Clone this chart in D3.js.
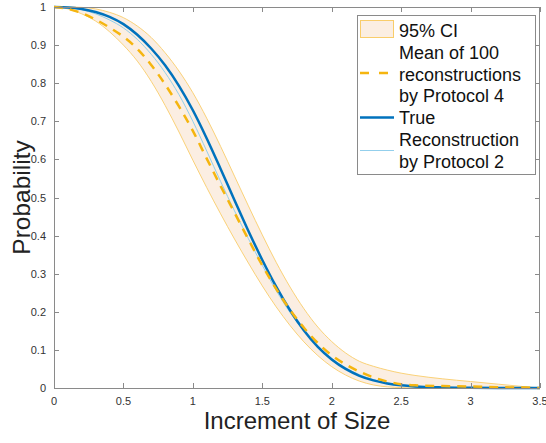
<!DOCTYPE html>
<html><head><meta charset="utf-8">
<script src="https://cdn.jsdelivr.net/npm/d3@7"></script>
<style>body{margin:0;background:#fff}svg{display:block;font-family:"Liberation Sans",Arial,Helvetica,sans-serif}</style>
</head><body><svg id="c" width="546" height="443"></svg>
<script>
const xs = [0,0.1,0.2,0.3,0.4,0.5,0.6,0.7,0.8,0.9,1.0,1.1,1.2,1.3,1.4,1.5,1.6,1.7,1.8,1.9,2.0,2.1,2.2,2.3,2.4,2.5,2.6,2.8,3.0,3.2,3.4,3.5];
const trueP = [1.000,0.999,0.995,0.987,0.974,0.955,0.927,0.891,0.847,0.793,0.729,0.655,0.575,0.493,0.412,0.336,0.266,0.204,0.151,0.108,0.075,0.050,0.032,0.020,0.012,0.007,0.004,0.0015,0.0005,0.0002,0.0001,0];
const protocol2 = [1.000,0.998,0.993,0.982,0.966,0.945,0.915,0.876,0.828,0.770,0.700,0.622,0.542,0.465,0.392,0.322,0.256,0.198,0.150,0.110,0.078,0.053,0.035,0.022,0.013,0.008,0.005,0.002,0.001,0.0003,0.0001,0];
const mean4 = [1.000,0.995,0.984,0.967,0.946,0.922,0.890,0.848,0.797,0.739,0.675,0.602,0.530,0.460,0.390,0.322,0.260,0.205,0.158,0.118,0.086,0.062,0.043,0.028,0.017,0.010,0.007,0.005,0.004,0.002,0.001,0];
const ciUpper = [1.000,1.000,0.999,0.995,0.986,0.972,0.950,0.920,0.880,0.832,0.775,0.708,0.634,0.556,0.478,0.402,0.330,0.265,0.208,0.160,0.122,0.092,0.070,0.057,0.047,0.039,0.033,0.024,0.017,0.010,0.003,0];
const ciLower = [1.000,0.995,0.982,0.963,0.935,0.900,0.858,0.805,0.742,0.672,0.598,0.526,0.457,0.391,0.328,0.268,0.213,0.164,0.121,0.085,0.056,0.034,0.018,0.008,0.003,0.001,0,0,0,0,0,0];
const xTicks = [0,0.5,1,1.5,2,2.5,3,3.5];
const xTickLabels = ["0","0.5","1","1.5","2","2.5","3","3.5"];
const yTicks = [0,0.1,0.2,0.3,0.4,0.5,0.6,0.7,0.8,0.9,1];
const yTickLabels = ["0","0.1","0.2","0.3","0.4","0.5","0.6","0.7","0.8","0.9","1"];
const legendLabels = [["95% CI"],["Mean of 100","reconstructions","by Protocol 4"],["True"],["Reconstruction","by Protocol 2"]];
const xLabel = "Increment of Size", yLabel = "Probability";

const svg = d3.select("#c");
const L=54, R=540, T=7, B=388;
const x = d3.scaleLinear().domain([0,3.5]).range([L,R]);
const y = d3.scaleLinear().domain([0,1]).range([B,T]);
const C = {band:"#FBEEE2", bandEdge:"#F9CD6A", mean:"#F5B50F", tru:"#0072BD", p2:"#93CFEC", axis:"#8a8a8a", text:"#333"};

const pts = xs.map((v,i)=>i);
const area = d3.area().x(i=>x(xs[i])).y0(i=>y(ciLower[i])).y1(i=>y(ciUpper[i])).curve(d3.curveMonotoneX);
const line = arr => d3.line().x(i=>x(xs[i])).y(i=>y(arr[i])).curve(d3.curveMonotoneX);

const plot = svg.append("g");
plot.append("path").attr("d",area(pts)).attr("fill",C.band);
plot.append("path").attr("d",line(ciUpper)(pts)).attr("fill","none").attr("stroke",C.bandEdge).attr("stroke-width",0.9);
plot.append("path").attr("d",line(ciLower)(pts)).attr("fill","none").attr("stroke",C.bandEdge).attr("stroke-width",0.9);
plot.append("path").attr("d",line(protocol2)(pts)).attr("fill","none").attr("stroke",C.p2).attr("stroke-width",1);
plot.append("path").attr("d",line(trueP)(pts)).attr("fill","none").attr("stroke",C.tru).attr("stroke-width",2.5);
plot.append("path").attr("d",line(mean4)(pts)).attr("fill","none").attr("stroke",C.mean).attr("stroke-width",2.5).attr("stroke-dasharray","9,7");

// axes
const ax = svg.append("g").attr("stroke",C.axis).attr("stroke-width",1).attr("fill","none");
ax.append("rect").attr("x",L+0.5).attr("y",T+0.5).attr("width",R-L-1).attr("height",B-T);
const tl = 5;
xTicks.forEach(t=>{
  const px = Math.round(x(t))+0.5;
  ax.append("line").attr("x1",px).attr("x2",px).attr("y1",B).attr("y2",B-tl);
  ax.append("line").attr("x1",px).attr("x2",px).attr("y1",T).attr("y2",T+tl);
});
yTicks.forEach(t=>{
  const py = Math.round(y(t))+0.5;
  ax.append("line").attr("x1",L).attr("x2",L+tl).attr("y1",py).attr("y2",py);
  ax.append("line").attr("x1",R).attr("x2",R-tl).attr("y1",py).attr("y2",py);
});
svg.append("g").selectAll("text").data(xTicks).join("text")
  .attr("x",d=>x(d)).attr("y",B+17).attr("text-anchor","middle")
  .attr("font-size",11).attr("fill",C.text).text((d,i)=>xTickLabels[i]);
svg.append("g").selectAll("text").data(yTicks).join("text")
  .attr("x",L-8).attr("y",d=>y(d)+4).attr("text-anchor","end")
  .attr("font-size",11).attr("fill",C.text).text((d,i)=>yTickLabels[i]);
svg.append("text").attr("x",(L+R)/2).attr("y",429).attr("text-anchor","middle")
  .attr("font-size",24).attr("fill","#222").text(xLabel);
svg.append("text").attr("transform",`translate(30,${(T+B)/2}) rotate(-90)`).attr("text-anchor","middle")
  .attr("font-size",24.5).attr("fill","#222").text(yLabel);

// legend
const lg = svg.append("g");
lg.append("rect").attr("x",357.5).attr("y",15.5).attr("width",178).attr("height",159).attr("fill","#fff").attr("stroke",C.axis).attr("stroke-width",1);
lg.append("rect").attr("x",360.5).attr("y",20.5).attr("width",33).attr("height",17).attr("fill",C.band).attr("stroke",C.bandEdge).attr("stroke-width",1);
lg.append("line").attr("x1",360).attr("x2",394).attr("y1",73).attr("y2",73).attr("stroke",C.mean).attr("stroke-width",2.5).attr("stroke-dasharray","9,10");
lg.append("line").attr("x1",360).attr("x2",394).attr("y1",117.5).attr("y2",117.5).attr("stroke",C.tru).attr("stroke-width",2.5);
lg.append("line").attr("x1",360).attr("x2",394).attr("y1",150.5).attr("y2",150.5).attr("stroke",C.p2).attr("stroke-width",1);
const rows = legendLabels.flat();
lg.selectAll("text.l").data(rows).join("text").attr("class","l")
  .attr("x",399).attr("y",(d,i)=>37+i*21.8).attr("font-size",18).attr("fill","#111").text(d=>d);
</script></body></html>
